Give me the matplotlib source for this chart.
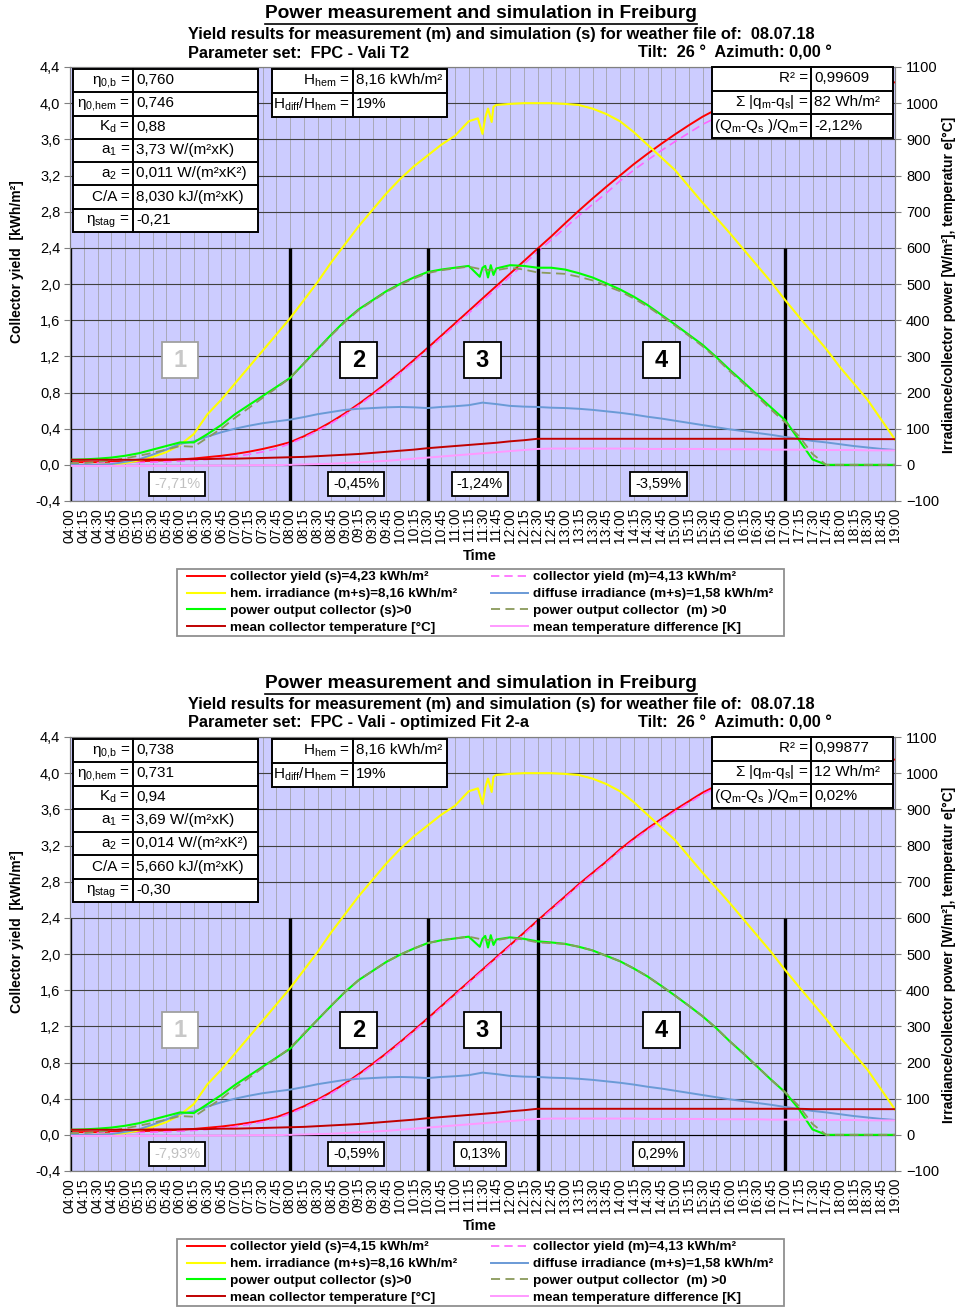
import numpy as np
import matplotlib
matplotlib.use('Agg')
import matplotlib.pyplot as plt
from matplotlib.patches import Rectangle
from matplotlib.lines import Line2D

plt.rcParams['font.family'] = ['Liberation Sans', 'DejaVu Sans']
plt.rcParams['mathtext.fontset'] = 'custom'
plt.rcParams['mathtext.rm'] = 'Liberation Sans'
plt.rcParams['mathtext.it'] = 'Liberation Sans'
plt.rcParams['mathtext.bf'] = 'Liberation Sans:bold'
plt.rcParams['mathtext.default'] = 'regular'

W, H = 957, 1307

# ---- data -------------------------------------------------------------
times = ['04:00', '04:15', '04:30', '04:45', '05:00', '05:15', '05:30', '05:45',
         '06:00', '06:15', '06:30', '06:45', '07:00', '07:15', '07:30', '07:45',
         '08:00', '08:15', '08:30', '08:45', '09:00', '09:15', '09:30', '09:45',
         '10:00', '10:15', '10:30', '10:45', '11:00', '11:15', '11:30', '11:45',
         '12:00', '12:15', '12:30', '12:45', '13:00', '13:15', '13:30', '13:45',
         '14:00', '14:15', '14:30', '14:45', '15:00', '15:15', '15:30', '15:45',
         '16:00', '16:15', '16:30', '16:45', '17:00', '17:15', '17:30', '17:45',
         '18:00', '18:15', '18:30', '18:45', '19:00']

# hemispherical irradiance [W/m²]
hem_irr = [0, 0, 0, 2, 5, 12, 22, 35, 55, 85, 140, 180, 225, 270, 315, 360,
           405, 455, 505, 560, 610, 660, 705, 750, 790, 825, 855, 885, 910, 950, 915, 995,
           998, 1000, 1000, 1000, 998, 995, 985, 970, 950, 920, 885, 850, 815, 770, 725, 683,
           640, 595, 550, 505, 456, 410, 365, 320, 270, 225, 180, 125, 70]
# short cloud passage around 11:30 (extra samples)
irr_dip_t = ['11:25', '11:33', '11:36', '11:40', '11:42']
irr_dip_v = [958, 960, 985, 948, 990]
# diffuse irradiance [W/m²]
diff_irr = [0, 0, 0, 2, 8, 15, 28, 42, 58, 65, 78, 90, 100, 108, 115, 120,
            125, 132, 140, 146, 152, 155, 157, 159, 160, 159, 157, 160, 162, 165, 172, 168,
            163, 161, 160, 158, 157, 155, 152, 148, 144, 139, 133, 128, 122, 116, 110, 104,
            98, 93, 88, 83, 77, 72, 66, 62, 57, 52, 48, 44, 41]
# measured collector power [W/m²]
power_m = [5, 5, 8, 12, 18, 25, 33, 42, 52, 50, 75, 100, 130, 157, 185, 212,
           240, 280, 318, 358, 395, 428, 453, 478, 498, 515, 530, 538, 543, 548, 540, 538,
           545, 540, 532, 530, 528, 520, 510, 495, 480, 460, 438, 412, 385, 357, 328, 295,
           258, 224, 188, 152, 118, 80, 30, 0, 0, 0, 0, 0, 0]
# simulated collector power [W/m²], chart 1 and chart 2
power_s1 = [14, 15, 17, 20, 25, 32, 42, 52, 62, 62, 85, 110, 140, 165, 190, 215,
            240, 280, 320, 360, 398, 430, 455, 480, 500, 518, 533, 540, 545, 550, 545, 543,
            552, 550, 545, 545, 540, 530, 518, 502, 485, 465, 442, 415, 388, 360, 332, 298,
            262, 228, 193, 158, 124, 70, 15, 0, 0, 0, 0, 0, 0]
power_s2 = [14, 15, 17, 20, 25, 32, 42, 52, 62, 60, 85, 110, 138, 163, 188, 213,
            238, 278, 318, 357, 395, 428, 453, 478, 498, 515, 530, 538, 543, 548, 542, 540,
            546, 542, 535, 532, 528, 520, 510, 495, 480, 460, 438, 412, 385, 357, 328, 295,
            258, 224, 188, 152, 118, 72, 15, 0, 0, 0, 0, 0, 0]
# notches in the simulated power around 11:30 (extra samples)
pow_dip_t = ['11:27', '11:33', '11:36', '11:39', '11:42']
pow_dip_v = [520, 550, 518, 552, 525]
# collector yield [kWh/m²]
yield_m = [0.02, 0.02, 0.02, 0.022, 0.023, 0.026, 0.03, 0.034, 0.04, 0.048, 0.06, 0.074,
           0.092, 0.115, 0.143, 0.177, 0.235, 0.30, 0.374, 0.459, 0.553, 0.657, 0.769, 0.886,
           1.01, 1.139, 1.272, 1.407, 1.543, 1.678, 1.813, 1.948, 2.083, 2.218, 2.355, 2.488,
           2.62, 2.755, 2.88, 3.005, 3.14, 3.26, 3.37, 3.475, 3.575, 3.67, 3.765, 3.84,
           3.905, 3.965, 4.015, 4.055, 4.09, 4.112, 4.123, 4.128, 4.13, 4.13, 4.13, 4.13, 4.13]
yield_s1 = [0.03, 0.03, 0.03, 0.035, 0.035, 0.04, 0.045, 0.05, 0.06, 0.07, 0.085, 0.10,
            0.12, 0.145, 0.175, 0.21, 0.25, 0.315, 0.39, 0.475, 0.57, 0.674, 0.786, 0.904,
            1.028, 1.158, 1.292, 1.428, 1.565, 1.702, 1.84, 1.977, 2.114, 2.252, 2.39, 2.526,
            2.67, 2.81, 2.945, 3.075, 3.20, 3.325, 3.44, 3.55, 3.655, 3.755, 3.85, 3.93,
            4.00, 4.06, 4.113, 4.157, 4.192, 4.216, 4.227, 4.23, 4.23, 4.23, 4.23, 4.23, 4.23]
yield_s2 = [0.03, 0.03, 0.03, 0.035, 0.035, 0.04, 0.045, 0.05, 0.057, 0.065, 0.078, 0.092,
            0.11, 0.133, 0.16, 0.195, 0.25, 0.315, 0.389, 0.474, 0.568, 0.672, 0.784, 0.901,
            1.025, 1.154, 1.287, 1.422, 1.558, 1.693, 1.828, 1.963, 2.098, 2.233, 2.37, 2.503,
            2.636, 2.771, 2.897, 3.022, 3.157, 3.277, 3.388, 3.493, 3.594, 3.689, 3.784, 3.86,
            3.925, 3.985, 4.035, 4.076, 4.111, 4.133, 4.145, 4.15, 4.15, 4.15, 4.15, 4.15, 4.15]
# mean collector temperature [°C] and mean temperature difference [K]
temp_coll = [14, 14, 14, 14, 14, 14, 15, 15, 15, 16, 16, 17, 17, 18, 19, 20,
             21, 22, 24, 26, 28, 30, 33, 36, 39, 42, 46, 49, 52, 55, 58, 61,
             65, 68, 72, 72, 72, 72, 72, 72, 72, 72, 72, 72, 72, 72, 72, 72,
             72, 72, 72, 72, 72, 72, 71, 71, 71, 71, 71, 71, 71]
temp_diff = [-3, -3, -3, -3, -3, -3, -3, -3, -3, -2, -2, -2, -2, -1, -1, -1,
             0, 1, 2, 3, 5, 7, 9, 11, 14, 17, 20, 23, 26, 29, 32, 35,
             38, 41, 44, 45, 45, 45, 45, 45, 45, 45, 44, 44, 44, 44, 44, 43,
             43, 43, 43, 42, 42, 42, 42, 41, 41, 41, 40, 40, 40]

seg_times = ['04:00', '08:00', '10:30', '12:30', '17:00']
seg_names = ['1', '2', '3', '4']

param_labels = [r'$\eta_{0{,}b}$ =', r'$\eta_{0{,}hem}$ =', 'K$_d$ =', 'a$_1$ =', 'a$_2$ =',
                'C/A =', r'$\eta_{stag}$ =']
params_1 = ['0,760', '0,746', '0,88', '3,73 W/(m²xK)', '0,011 W/(m²xK²)', '8,030 kJ/(m²xK)', '-0,21']
params_2 = ['0,738', '0,731', '0,94', '3,69 W/(m²xK)', '0,014 W/(m²xK²)', '5,660 kJ/(m²xK)', '-0,30']
irr_labels = ['H$_{hem}$ =', 'H$_{diff}$/H$_{hem}$ =']
irr_values = ['8,16 kWh/m²', '19%']
fit_labels = ['R² =', r'$\Sigma$ |q$_m$-q$_s$| =', '(Q$_m$-Q$_s$ )/Q$_m$=']
fit_1 = ['0,99609', '82 Wh/m²', '-2,12%']
fit_2 = ['0,99877', '12 Wh/m²', '0,02%']
seg_pct_1 = ['-7,71%', '-0,45%', '-1,24%', '-3,59%']
seg_pct_2 = ['-7,93%', '-0,59%', '0,13%', '0,29%']
param_set_1 = 'FPC - Vali T2'
param_set_2 = 'FPC - Vali - optimized Fit 2-a'
yield_s_total = ['4,23', '4,15']


def to_h(t):
    return int(t[:2]) + int(t[3:]) / 60


def with_extra(vals, extra_t, extra_v):
    # base 15-min samples plus a few extra samples, sorted by time
    pts = sorted(list(zip([to_h(t) for t in times], vals)) +
                 list(zip([to_h(t) for t in extra_t], extra_v)))
    return [p[0] for p in pts], [p[1] for p in pts]


hours = np.array([to_h(t) for t in times])
seg_h = [to_h(t) for t in seg_times]

fig = plt.figure(figsize=(W / 100, H / 100), dpi=100)


def fy(y):
    return 1 - y / H


def table(x0, y0, x1, y1, xs, labels, values, fs=11):
    n = len(labels)
    rh = (y1 - y0) / n
    fig.add_artist(Rectangle((x0 / W, fy(y1)), (x1 - x0) / W, (y1 - y0) / H,
                             transform=fig.transFigure, fc='white', ec='black', lw=1.4, zorder=5))
    fig.add_artist(Line2D([xs / W, xs / W], [fy(y0), fy(y1)], transform=fig.transFigure,
                          color='black', lw=1.4, zorder=6))
    for i in range(1, n):
        yy = fy(y0 + i * rh)
        fig.add_artist(Line2D([x0 / W, x1 / W], [yy, yy], transform=fig.transFigure,
                              color='black', lw=1.4, zorder=6))
    for i, (lab, val) in enumerate(zip(labels, values)):
        yb = fy(y0 + (i + 0.5) * rh + 3.5)
        fig.text((xs - 3) / W, yb, lab, ha='right', va='baseline', fontsize=fs, zorder=7)
        fig.text((xs + 3) / W, yb, val, ha='left', va='baseline', fontsize=fs, zorder=7)


def chart(dy, power_s, yield_s, params, fit, pct, pset, ys_total):
    ax = fig.add_axes([70 / W, fy(501 + dy), 825 / W, 434 / H])
    ax.set_facecolor('#CCCCFF')
    ax.set_xlim(hours[0], hours[-1])
    ax.set_ylim(-0.4, 4.4)
    yt = np.arange(-0.4, 4.41, 0.4)
    ax.set_yticks(yt)
    ax.set_yticklabels([f'{v:.1f}'.replace('.', ',') for v in yt], fontsize=10.5)
    ax.set_xticks(hours)
    ax.set_xticklabels(times, rotation=90, fontsize=10)
    ax.tick_params(axis='x', length=0, pad=5)
    ax.tick_params(axis='y', length=4, color='#808080', pad=3)
    ax.grid(axis='x', color='#A8A8B8', lw=0.7)
    ax.grid(axis='y', color='#404040', lw=0.8)
    ax.axhline(0, color='black', lw=0.8)
    for s in ax.spines.values():
        s.set_color('#808080')

    ax2 = ax.twinx()
    ax2.set_ylim(-100, 1100)
    ax2.set_yticks(np.arange(-100, 1101, 100))
    ax2.tick_params(axis='y', labelsize=10.5, length=4, color='#808080', pad=4)
    for s in ax2.spines.values():
        s.set_color('#808080')

    ax.vlines(seg_h, -0.4, 2.4, color='black', lw=2.4, zorder=4)
    h_ys, = ax.plot(hours, yield_s, color='#FF0000', lw=1.4, zorder=3)
    h_ym, = ax.plot(hours, yield_m, color='#FF66FF', lw=1.2, ls=(0, (5, 3)), zorder=3)

    irr_x, irr_y = with_extra(hem_irr, irr_dip_t, irr_dip_v)
    ps_x, ps_y = with_extra(power_s, pow_dip_t, pow_dip_v)
    h_irr, = ax2.plot(irr_x, irr_y, color='#FFFF00', lw=1.5)
    h_dif, = ax2.plot(hours, diff_irr, color='#6A9AD6', lw=1.4)
    h_ps, = ax2.plot(ps_x, ps_y, color='#00FF00', lw=1.5)
    h_pm, = ax2.plot(hours, power_m, color='#8A9A5B', lw=1.3, ls=(0, (5, 3)))
    h_tc, = ax2.plot(hours, temp_coll, color='#C00000', lw=1.4)
    h_td, = ax2.plot(hours, temp_diff, color='#FF99FF', lw=1.4)

    # segment boxes (box size ~37 px: 0.67 h wide, 100 W/m² high)
    for k, name in enumerate(seg_names):
        xm = (seg_h[k] + seg_h[k + 1]) / 2
        grey = k == 0
        ax2.add_patch(Rectangle((xm - 0.335, 240), 0.67, 100, fc='white',
                                ec='#A0A0A0' if grey else 'black', lw=1.3, zorder=7))
        ax2.text(xm, 289, name, ha='center', va='center', fontsize=17, weight='bold',
                 color='#C8C8C8' if grey else 'black', zorder=8)
        ax2.text(xm - 0.05, -52, pct[k], ha='center', va='center', fontsize=10.5,
                 color='#C0C0C0' if grey else 'black', zorder=8,
                 bbox=dict(boxstyle='square,pad=0.35', fc='white', ec='black', lw=1.3))

    # titles
    t = fig.text(481 / W, fy(14 + dy), 'Power measurement and simulation in Freiburg',
                 ha='center', va='center', fontsize=13.8, weight='bold')
    fig.text(188 / W, fy(34 + dy),
             'Yield results for measurement (m) and simulation (s) for weather file of:  08.07.18',
             ha='left', va='center', fontsize=11.8, weight='bold')
    fig.text(188 / W, fy(53 + dy), 'Parameter set:  ' + pset, ha='left', va='center',
             fontsize=11.8, weight='bold')
    fig.text(832 / W, fy(53 + dy), 'Tilt:  26 °  Azimuth: 0,00 °', ha='right', va='center',
             fontsize=11.8, weight='bold')
    fig.text(17 / W, fy(262 + dy), 'Collector yield  [kWh/m²]', rotation=90,
             ha='center', va='center', fontsize=10, weight='bold')
    fig.text(949 / W, fy(285 + dy), 'Irradiance/collector power [W/m²], temperatur e[°C]',
             rotation=90, ha='center', va='center', fontsize=10, weight='bold')
    fig.text(480 / W, fy(556 + dy), 'Time', ha='center', va='center', fontsize=10.5, weight='bold')

    # parameter tables
    table(73, 69 + dy, 258, 232 + dy, 133, param_labels, params)
    table(272, 69 + dy, 447, 117 + dy, 353, irr_labels, irr_values)
    table(712, 67 + dy, 893, 138 + dy, 811, fit_labels, fit)

    handles = [h_ys, h_irr, h_ps, h_tc, h_ym, h_dif, h_pm, h_td]
    labels = [f'collector yield (s)={ys_total} kWh/m²',
              'hem. irradiance (m+s)=8,16 kWh/m²',
              'power output collector (s)>0',
              'mean collector temperature [°C]',
              'collector yield (m)=4,13 kWh/m²',
              'diffuse irradiance (m+s)=1,58 kWh/m²',
              'power output collector  (m) >0',
              'mean temperature difference [K]']
    fig.add_artist(Rectangle((177 / W, fy(636 + dy)), 607 / W, 67 / H, transform=fig.transFigure,
                             fc='white', ec='#909090', lw=1.3, zorder=4))
    fig.legend(handles, labels, ncol=2, loc='upper left',
               bbox_to_anchor=(187 / W, fy(571 + dy)), frameon=False,
               prop={'size': 9.7, 'weight': 'bold'},
               handlelength=2.8, handletextpad=0.37, columnspacing=2.5,
               labelspacing=0.33, borderpad=0, borderaxespad=0)
    return t


titles = [chart(0, power_s1, yield_s1, params_1, fit_1, seg_pct_1, param_set_1, yield_s_total[0]),
          chart(670, power_s2, yield_s2, params_2, fit_2, seg_pct_2, param_set_2, yield_s_total[1])]

# underline the main titles
fig.canvas.draw()
r = fig.canvas.get_renderer()
for t in titles:
    bb = t.get_window_extent(r)
    fig.add_artist(Line2D([bb.x0 / W, bb.x1 / W], [(bb.y0 - 1) / H, (bb.y0 - 1) / H],
                          transform=fig.transFigure, color='black', lw=1.2))

fig.savefig('out.png', dpi=100)
